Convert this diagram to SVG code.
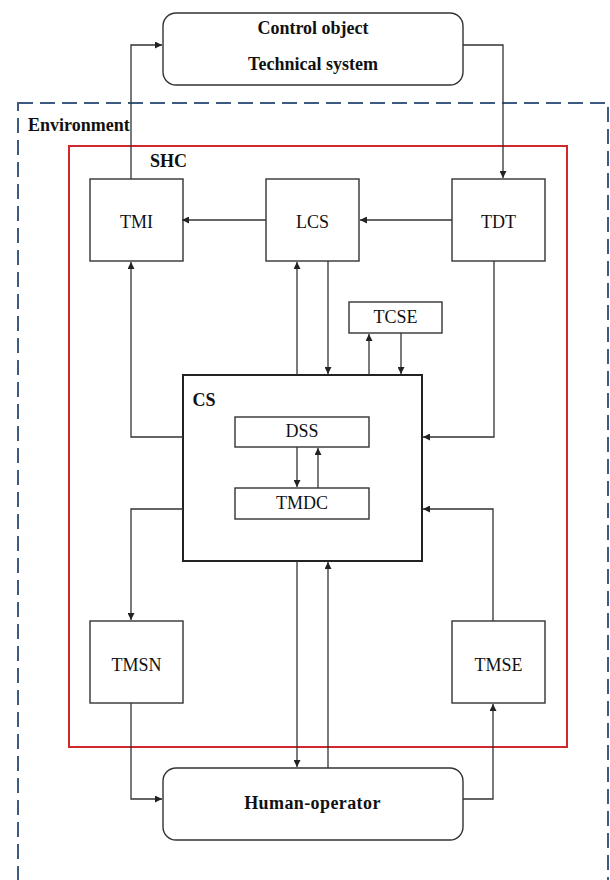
<svg xmlns="http://www.w3.org/2000/svg" width="610" height="880" viewBox="0 0 610 880">
<defs>
<marker id="ah" viewBox="0 0 10 10" refX="10" refY="5" markerWidth="7" markerHeight="7" markerUnits="userSpaceOnUse" orient="auto">
<path d="M0,0 L10,5 L0,10 z" fill="#222"/>
</marker>
<style>
.box{fill:#fff;stroke:#333;stroke-width:1.4}
.cs{fill:#fff;stroke:#222;stroke-width:2}
text{font-family:'Liberation Serif','Times New Roman',Times,serif;font-size:18px;fill:#111}
.lbl{text-anchor:middle}
.bold{font-weight:bold}
.c{fill:none;stroke:#333;stroke-width:1.3;marker-end:url(#ah)}
</style>
</defs>
<g id="environment">
<rect x="18" y="103" width="590" height="800" fill="none" stroke="#3d5a80" stroke-width="2" stroke-dasharray="15,7"/>
<text class="bold" x="28" y="130.5" font-family="Liberation Serif, serif">Environment</text>
</g>
<g id="shc">
<rect x="69" y="146" width="498" height="601" fill="none" stroke="#d0282c" stroke-width="2"/>
<text class="bold" x="150" y="167" font-family="Liberation Serif, serif">SHC</text>
</g>
<g id="control-object">
<rect x="163" y="13" width="300" height="72" rx="13" fill="#fff" stroke="#333" stroke-width="1.4"/>
<text class="bold lbl" x="313" y="34" font-family="Liberation Serif, serif">Control object</text>
<text class="bold lbl" x="313" y="70" font-family="Liberation Serif, serif">Technical system</text>
</g>
<g id="tmi">
<rect class="box" x="90" y="179" width="93" height="82"/>
<text class="lbl" x="136.5" y="228" font-family="Liberation Serif, serif">TMI</text>
</g>
<g id="lcs">
<rect class="box" x="266" y="179" width="93" height="82"/>
<text class="lbl" x="312.5" y="228" font-family="Liberation Serif, serif">LCS</text>
</g>
<g id="tdt">
<rect class="box" x="452" y="179" width="93" height="82"/>
<text class="lbl" x="498.5" y="228" font-family="Liberation Serif, serif">TDT</text>
</g>
<g id="tcse">
<rect class="box" x="349" y="302" width="93" height="31"/>
<text class="lbl" x="395.5" y="323" font-family="Liberation Serif, serif">TCSE</text>
</g>
<g id="cs">
<rect class="cs" x="183" y="375" width="239" height="186"/>
<text class="bold" x="192.5" y="406" font-family="Liberation Serif, serif">CS</text>
</g>
<g id="dss">
<rect class="box" x="235" y="417" width="134" height="30"/>
<text class="lbl" x="302" y="436.5" font-family="Liberation Serif, serif">DSS</text>
</g>
<g id="tmdc">
<rect class="box" x="235" y="488" width="134" height="31"/>
<text class="lbl" x="302" y="509" font-family="Liberation Serif, serif">TMDC</text>
</g>
<g id="tmsn">
<rect class="box" x="90" y="621" width="93" height="82"/>
<text class="lbl" x="136.5" y="670.5" font-family="Liberation Serif, serif">TMSN</text>
</g>
<g id="tmse">
<rect class="box" x="452" y="621" width="93" height="82"/>
<text class="lbl" x="498.5" y="670.5" font-family="Liberation Serif, serif">TMSE</text>
</g>
<g id="human-operator">
<rect x="163" y="768" width="300" height="72" rx="13" fill="#fff" stroke="#333" stroke-width="1.4"/>
<text class="bold lbl" x="312.5" y="809" letter-spacing="0.4" font-family="Liberation Serif, serif">Human-operator</text>
</g>
<g id="connectors">
<path class="c" d="M131,179 V45 H162"/>
<path class="c" d="M463,45 H503 V178"/>
<path class="c" d="M266,220 H182"/>
<path class="c" d="M452,220 H360"/>
<path class="c" d="M183,437 H131 V262"/>
<path class="c" d="M297,375 V262"/>
<path class="c" d="M328,261 V374"/>
<path class="c" d="M369,375 V334"/>
<path class="c" d="M401,333 V374"/>
<path class="c" d="M494,261 V437 H423"/>
<path class="c" d="M297,447 V487"/>
<path class="c" d="M318,488 V448"/>
<path class="c" d="M183,509 H131 V620"/>
<path class="c" d="M493,621 V509 H423"/>
<path class="c" d="M297,561 V767"/>
<path class="c" d="M328,768 V562"/>
<path class="c" d="M131,703 V799 H162"/>
<path class="c" d="M463,799 H493 V704"/>
</g>
</svg>
